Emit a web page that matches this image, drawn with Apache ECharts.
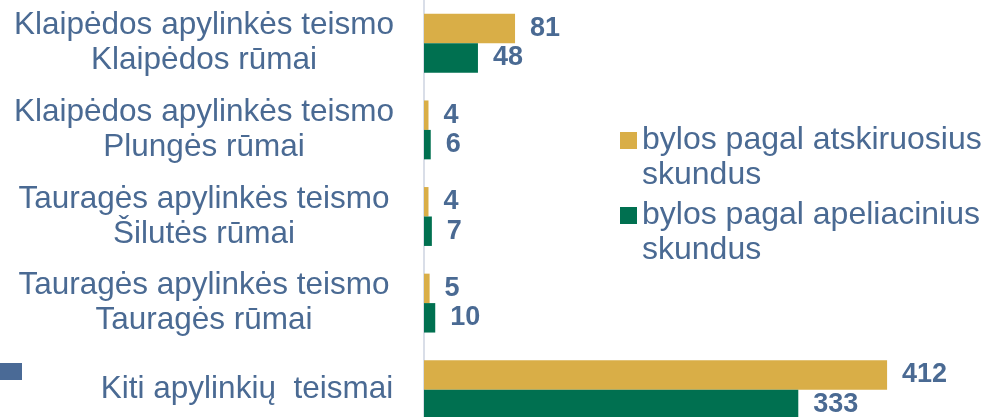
<!DOCTYPE html>
<html>
<head>
<meta charset="utf-8">
<script src="https://cdn.jsdelivr.net/npm/echarts@6/dist/echarts.min.js"></script>
<style>
  html, body { margin: 0; padding: 0; background: #fff; }
  #chart { width: 987px; height: 417px; }
</style>
</head>
<body>
<div id="chart"></div>
<script>
// duomenys
var categories = [
  'Klaipėdos apylinkės teismo\nKlaipėdos rūmai',
  'Klaipėdos apylinkės teismo\nPlungės rūmai',
  'Tauragės apylinkės teismo\nŠilutės rūmai',
  'Tauragės apylinkės teismo\nTauragės rūmai',
  'Kiti apylinkių  teismai'
]
var seriesNames = ['bylos pagal atskiruosius\nskundus', 'bylos pagal apeliacinius\nskundus']
var atskiruosius = [81, 4, 4, 5, 412]
var apeliacinius = [48, 6, 7, 10, 333]

var TEXT = '#4a6a93'
var FONT = 'Liberation Sans, Arial, sans-serif'

var chart = echarts.init(document.getElementById('chart'))

function legendFor (name, top) {
  return {
    data: [name],
    left: 620,
    top: top,
    padding: 0,
    orient: 'vertical',
    icon: 'rect',
    itemWidth: 17,
    itemHeight: 17,
    selectedMode: false,
    // tuščia pirma eilutė, kad ikonėlė būtų prie pirmos teksto eilutės
    formatter: function (n) { return '\n' + n },
    textStyle: {
      color: TEXT,
      fontFamily: FONT,
      fontSize: 32,
      lineHeight: 35
    }
  }
}

var labelStyle = {
  show: true,
  position: 'right',
  distance: 15,
  color: TEXT,
  fontFamily: FONT,
  fontSize: 27,
  fontWeight: 'bold'
}

var option = {
  animation: false,
  backgroundColor: '#fff',
  textStyle: { fontFamily: FONT },
  grid: { left: 424, right: 1, top: 0, bottom: -16, outerBoundsMode: 'none' },
  legend: [legendFor(seriesNames[0], 88), legendFor(seriesNames[1], 163)],
  xAxis: {
    type: 'value',
    min: 0,
    max: 500,
    show: false
  },
  yAxis: {
    type: 'category',
    inverse: true,
    data: categories,
    axisLine: { show: true, lineStyle: { color: '#d9dee8', width: 2 } },
    axisTick: { show: false },
    splitLine: { show: false },
    axisLabel: {
      margin: 220,
      align: 'center',
      color: TEXT,
      fontFamily: FONT,
      fontSize: 31.5,
      lineHeight: 35,
      formatter: function (v, i) {
        if (i === categories.length - 1) return '{k|' + v + '}'
        return v
      },
      rich: {
        k: {
          color: TEXT,
          fontFamily: FONT,
          fontSize: 31.5,
          lineHeight: 35,
          padding: [0, 0, 0, 86]
        }
      }
    }
  },
  graphic: [{
    type: 'rect',
    left: 0,
    top: 363,
    shape: { width: 22, height: 17 },
    style: { fill: '#4a6a96' }
  }],
  series: [
    {
      name: seriesNames[0],
      type: 'bar',
      data: atskiruosius,
      itemStyle: { color: '#d9ae47' },
      barGap: 0,
      barCategoryGap: '32%',
      label: labelStyle
    },
    {
      name: seriesNames[1],
      type: 'bar',
      data: apeliacinius,
      itemStyle: { color: '#007050' },
      barGap: 0,
      barCategoryGap: '32%',
      label: labelStyle
    }
  ]
}

chart.setOption(option)
</script>
</body>
</html>
